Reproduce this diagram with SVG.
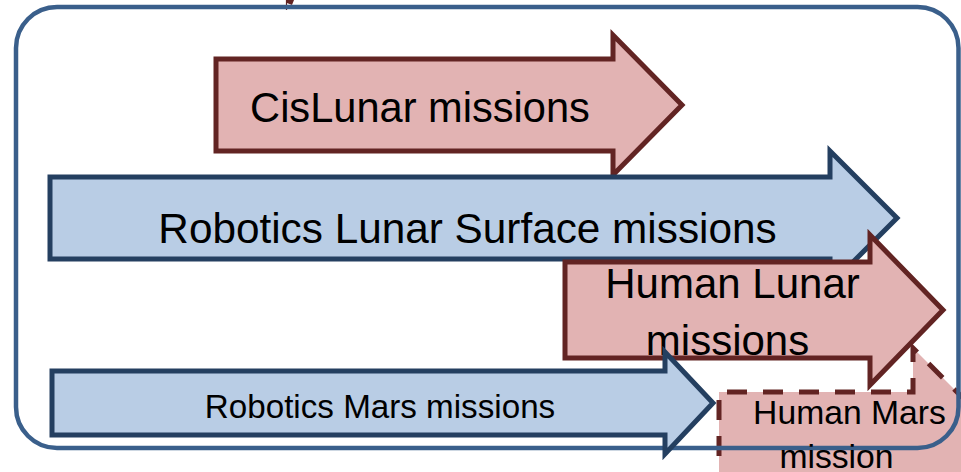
<svg xmlns="http://www.w3.org/2000/svg" width="961" height="472" viewBox="0 0 961 472">
<style>
.pink{fill:#e2b3b3;stroke:#622423;stroke-width:5;stroke-linejoin:miter}
.blue{fill:#b9cde5;stroke:#243f60;stroke-width:5;stroke-linejoin:miter}
.dash{fill:#e2b3b3;stroke:#622423;stroke-width:5;stroke-dasharray:20 16}
.frame{fill:none;stroke:#3a5f8b;stroke-width:4.5}
text{font-family:"Liberation Sans",Arial,sans-serif;fill:#000;text-anchor:middle}
</style>
<rect width="961" height="472" fill="#fff"/>
<g id="top-mark">
<polygon points="286,0 294,0 292,5 287,3" fill="#622423"/>
<line x1="286.5" y1="0" x2="286.5" y2="10" stroke="#622423" stroke-width="1.2"/>
</g>
<g id="human-mars-shape">
<polygon class="dash" points="719,492 719,392 913,392 913,348 1007,442 913,536 913,492"/>
</g>
<g id="frame">
<rect class="frame" x="16" y="7" width="942.5" height="441" rx="41" ry="41"/>
</g>
<g id="cislunar">
<polygon class="pink" points="216,59 613,59 613,35 682,105 613,175 613,151 216,151"/>
<text x="420" y="122" font-size="41.6">CisLunar missions</text>
</g>
<g id="robotics-lunar">
<polygon class="blue" points="50,177 830,177 830,151 897,218 830,285 830,259 50,259"/>
<text x="467.5" y="243" font-size="42.3">Robotics Lunar Surface missions</text>
</g>
<g id="human-lunar">
<polygon class="pink" points="565,262 870,262 870,235 943,310 870,385 870,358 565,358"/>
<text x="732.5" y="298" font-size="42">Human Lunar</text>
<text x="727.5" y="355" font-size="42">missions</text>
</g>
<g id="robotics-mars">
<polygon class="blue" points="52,371 665,371 665,352 713,403 665,454 665,435 52,435"/>
<text x="380" y="418" font-size="33.2">Robotics Mars missions</text>
</g>
<g id="human-mars">
<text x="849.5" y="424" font-size="33.7">Human Mars</text>
<text x="836.5" y="468" font-size="33.7">mission</text>
</g>
</svg>
